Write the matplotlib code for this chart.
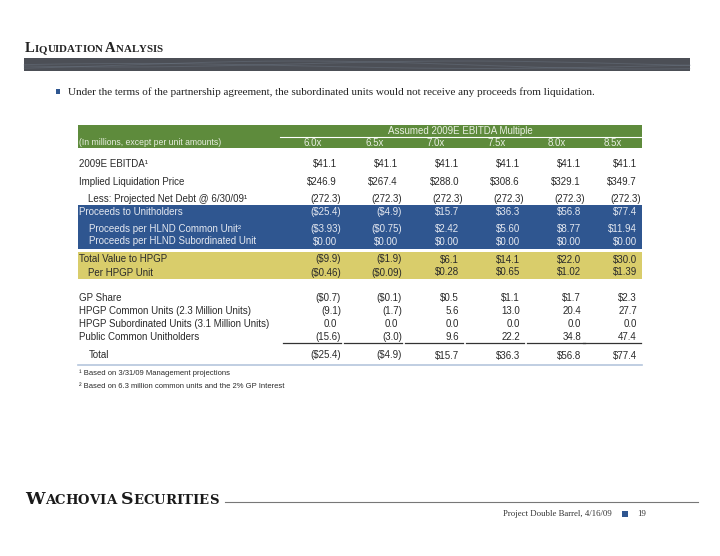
import numpy as np
import matplotlib.pyplot as plt
from matplotlib.patches import Rectangle

# Table data
multiples = ['6.0x', '6.5x', '7.0x', '7.5x', '8.0x', '8.5x']
ebitda = [41.1, 41.1, 41.1, 41.1, 41.1, 41.1]
liq_price = [246.9, 267.4, 288.0, 308.6, 329.1, 349.7]
net_debt = [-272.3, -272.3, -272.3, -272.3, -272.3, -272.3]
proceeds = [-25.4, -4.9, 15.7, 36.3, 56.8, 77.4]
per_common = [-3.93, -0.75, 2.42, 5.60, 8.77, 11.94]
per_sub = [0.00, 0.00, 0.00, 0.00, 0.00, 0.00]
total_hpgp = [-9.9, -1.9, 6.1, 14.1, 22.0, 30.0]
per_hpgp = [-0.46, -0.09, 0.28, 0.65, 1.02, 1.39]
gp_share = [-0.7, -0.1, 0.5, 1.1, 1.7, 2.3]
hpgp_common = [-9.1, -1.7, 5.6, 13.0, 20.4, 27.7]
hpgp_sub = [0.0, 0.0, 0.0, 0.0, 0.0, 0.0]
public = [-15.6, -3.0, 9.6, 22.2, 34.8, 47.4]
total = [-25.4, -4.9, 15.7, 36.3, 56.8, 77.4]

bullet = ("Under the terms of the partnership agreement, the subordinated units "
          "would not receive any proceeds from liquidation.")
footnotes = ["\u00b9 Based on 3/31/09 Management projections",
             "\u00b2 Based on 6.3 million common units and the 2% GP Interest"]

GREEN = '#5e8b3c'
BLUE = '#2f5690'
YELLOW = '#d9cd6b'
TXT = '#2a2a2a'
SANS = 'Liberation Sans'
SERIF = 'Liberation Serif'

fig = plt.figure(figsize=(7.2, 5.56), dpi=100)
ax = fig.add_axes([0, 0, 1, 1])
ax.set_xlim(0, 720)
ax.set_ylim(556, 0)
ax.axis('off')
renderer = fig.canvas.get_renderer()


def small_caps(x, y, s, big, small, **kw):
    # fake small caps: first letter of each word big, rest small uppercase
    for wi, word in enumerate(s.split(' ')):
        if wi > 0:
            t = ax.text(x, y, ' ', fontsize=small, **kw)
            x += t.get_window_extent(renderer).width
        for ci, ch in enumerate(word):
            size = big if ci == 0 else small
            t = ax.text(x, y, ch.upper(), fontsize=size, va='baseline', **kw)
            x += t.get_window_extent(renderer).width
    return x


def money(v, dec=1):
    s = f'${abs(v):.{dec}f}'
    return f'({s})' if v < 0 else s


def plain(v, dec=1):
    s = f'{abs(v):.{dec}f}'
    return f'({s})' if v < 0 else s


# header
small_caps(25, 52, 'Liquidation Analysis', 10.5, 7.8, family=SERIF,
           weight='bold', color='#222222')
ax.add_patch(Rectangle((24, 58), 666, 13, color='#4c4f56', lw=0))
xs = np.linspace(24, 690, 200)
for amp, ph, off in [(3, 0.5, 64), (4, 2.0, 65), (2.5, 3.5, 66)]:
    ax.plot(xs, off + amp * np.sin(xs / 110 + ph), color='#7a8797', lw=0.7, alpha=0.3)
ax.add_patch(Rectangle((24, 55), 666, 3, color='white', lw=0, zorder=3))
ax.add_patch(Rectangle((24, 71), 666, 3, color='white', lw=0, zorder=3))

ax.add_patch(Rectangle((56, 89), 4, 4.5, color='#2f5690', lw=0))
ax.text(68, 92, bullet, fontsize=8, family=SERIF, color='#222222', va='center')

# table geometry
left, right = 78, 642
col_x = [337, 398, 459, 520, 581, 637]

ax.add_patch(Rectangle((left, 125), right - left, 23, color=GREEN, lw=0))
ax.plot([280, right], [136.5, 136.5], color='white', lw=0.8)
ax.text(460, 130.5, 'Assumed 2009E EBITDA Multiple', fontsize=7, family=SANS,
        color='#e8eee0', ha='center', va='center')
ax.text(left + 1, 142.5, '(In millions, except per unit amounts)', fontsize=6.2,
        family=SANS, color='#e8eee0', va='center')
for cx, m in zip(col_x, multiples):
    ax.text(cx - 33, 142.5, m, fontsize=7, family=SANS, color='#e8eee0', va='center')

ax.add_patch(Rectangle((left, 204.5), right - left, 44, color=BLUE, lw=0))
ax.add_patch(Rectangle((left, 252), right - left, 27, color=YELLOW, lw=0))


def row(y, label, vals, fmt, indent=0, color=TXT):
    ax.text(left + 1 + indent, y, label, fontsize=7, family=SANS, color=color, va='center')
    for cx, v in zip(col_x, vals):
        ax.text(cx + (4 if v < 0 else 0), y, fmt(v), fontsize=7, family=SANS,
                color=color, ha='right', va='center')


LIGHT = '#e4e8f0'
row(164, '2009E EBITDA\u00b9', ebitda, money)
row(182, 'Implied Liquidation Price', liq_price, money)
row(198.5, 'Less: Projected Net Debt @ 6/30/09\u00b9', net_debt, plain, indent=9)
row(212, 'Proceeds to Unitholders', proceeds, money, color=LIGHT)
row(229, 'Proceeds per HLND Common Unit\u00b2', per_common, lambda v: money(v, 2),
    indent=10, color=LIGHT)
row(241.5, 'Proceeds per HLND Subordinated Unit', per_sub, lambda v: money(v, 2),
    indent=10, color=LIGHT)
row(259.5, 'Total Value to HPGP', total_hpgp, money)
row(272.5, 'Per HPGP Unit', per_hpgp, lambda v: money(v, 2), indent=9)
row(298, 'GP Share', gp_share, money)
row(311, 'HPGP Common Units (2.3 Million Units)', hpgp_common, plain)
row(324, 'HPGP Subordinated Units (3.1 Million Units)', hpgp_sub, plain)
row(337, 'Public Common Unitholders', public, plain)
for cx in col_x:
    ax.plot([cx - 54, cx + 4], [343, 343], color='#333333', lw=0.9)
row(355.5, 'Total', total, money, indent=10)
ax.plot([left, right], [364.5, 364.5], color='#b5c6dd', lw=1.2)

for i, fn in enumerate(footnotes):
    ax.text(left + 1, 373 + 14 * i, fn, fontsize=5.5, family=SANS, color=TXT, va='center')

# footer
xe = small_caps(25, 504, 'Wachovia Securities', 12.5, 9.5, family='DejaVu Serif',
                weight='bold', color='#1a1a1a')
ax.plot([xe + 7, 698], [502, 502], color='#777777', lw=0.8)
ax.text(612, 514, 'Project Double Barrel, 4/16/09', fontsize=6.3, family=SERIF,
        color='#333333', ha='right', va='center')
ax.add_patch(Rectangle((622, 511), 5.5, 5.5, color=BLUE, lw=0))
ax.text(637, 514, '19', fontsize=6.3, family=SERIF, color='#333333', va='center')

fig.savefig('out.png', dpi=100)
